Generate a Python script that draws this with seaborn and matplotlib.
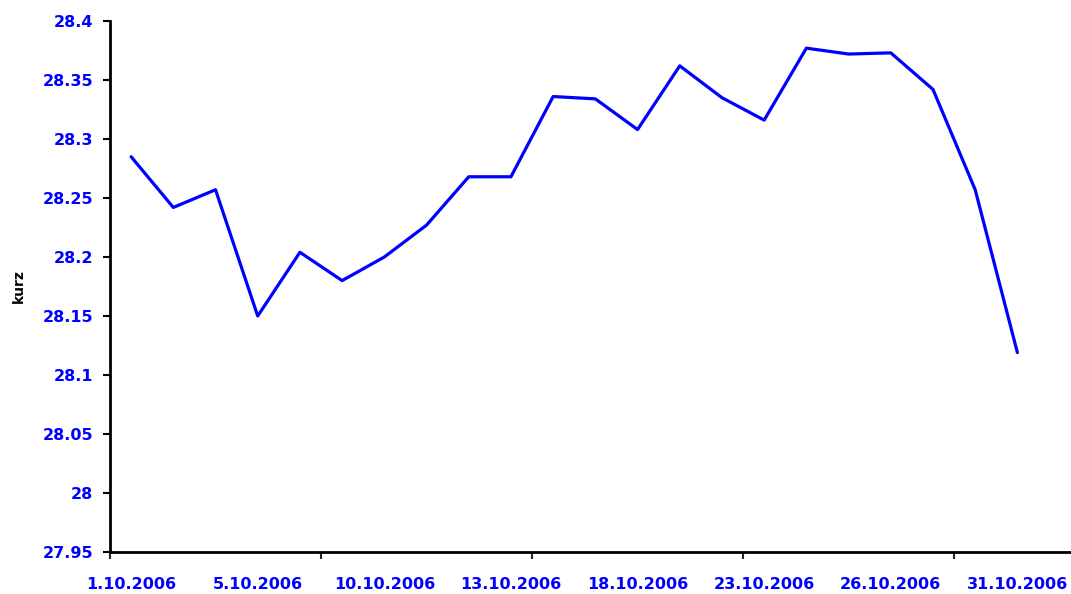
import matplotlib
matplotlib.use("Agg")
import matplotlib.pyplot as plt
import pandas as pd
import seaborn as sns
from matplotlib.ticker import FixedLocator, NullFormatter

# data (CZK/EUR rate, October 2006)
dates = ['1.10.2006', '2.10.2006', '3.10.2006', '5.10.2006', '6.10.2006',
         '9.10.2006', '10.10.2006', '11.10.2006', '12.10.2006', '13.10.2006',
         '16.10.2006', '17.10.2006', '18.10.2006', '19.10.2006', '20.10.2006',
         '23.10.2006', '24.10.2006', '25.10.2006', '26.10.2006', '27.10.2006',
         '30.10.2006', '31.10.2006']
kurz = [28.285, 28.242, 28.257, 28.150, 28.204, 28.180, 28.200, 28.227,
        28.268, 28.268, 28.336, 28.334, 28.308, 28.362, 28.335, 28.316,
        28.377, 28.372, 28.373, 28.342, 28.257, 28.119]
shown_labels = ['1.10.2006', '5.10.2006', '10.10.2006', '13.10.2006',
                '18.10.2006', '23.10.2006', '26.10.2006', '31.10.2006']
y_ticks = [27.95, 28.0, 28.05, 28.1, 28.15, 28.2, 28.25, 28.3, 28.35, 28.4]

df = pd.DataFrame({'datum': dates, 'kurz': kurz})
df['pos'] = range(len(df))

sns.set_style("white")
plt.rcParams['font.family'] = ['DejaVu Sans']

blue = '#0000ff'
fig = plt.figure(figsize=(10.71, 5.94), dpi=100)
ax = fig.add_axes([110 / 1071, 1 - 552 / 594, 1 - 110 / 1071, (552 - 21) / 594])

sns.lineplot(data=df, x='pos', y='kurz', ax=ax, color=blue, linewidth=2.3)

ax.set_xlim(-0.5, 22.27)
ax.set_ylim(27.95, 28.4)

# y axis
ax.set_yticks(y_ticks)
ax.set_yticklabels([f'{v:g}' for v in y_ticks])
ax.tick_params(axis='y', direction='out', length=5, width=1.5, pad=7,
               colors='black', labelcolor=blue, labelsize=11.5, left=True)
for t in ax.get_yticklabels():
    t.set_fontweight('bold')

# x axis: tick marks on category boundaries, labels every third category
ax.xaxis.set_major_locator(FixedLocator([-0.5, 4.5, 9.5, 14.5, 19.5]))
ax.xaxis.set_major_formatter(NullFormatter())
label_pos = [dates.index(d) for d in shown_labels]
ax.xaxis.set_minor_locator(FixedLocator(label_pos))
ax.set_xticklabels(shown_labels, minor=True)
ax.tick_params(axis='x', which='major', direction='out', length=5, width=1.5,
               bottom=True)
ax.tick_params(axis='x', which='minor', length=0, pad=18, labelcolor=blue,
               labelsize=11.5, bottom=True)
for t in ax.get_xticklabels(minor=True):
    t.set_fontweight('bold')

ax.set_xlabel('')
ax.set_ylabel('kurz', fontsize=10, fontweight='bold', color='black', labelpad=12)

sns.despine(ax=ax)
for side in ['left', 'bottom']:
    ax.spines[side].set_linewidth(2)
    ax.spines[side].set_color('black')

fig.savefig('out.png', dpi=100)
